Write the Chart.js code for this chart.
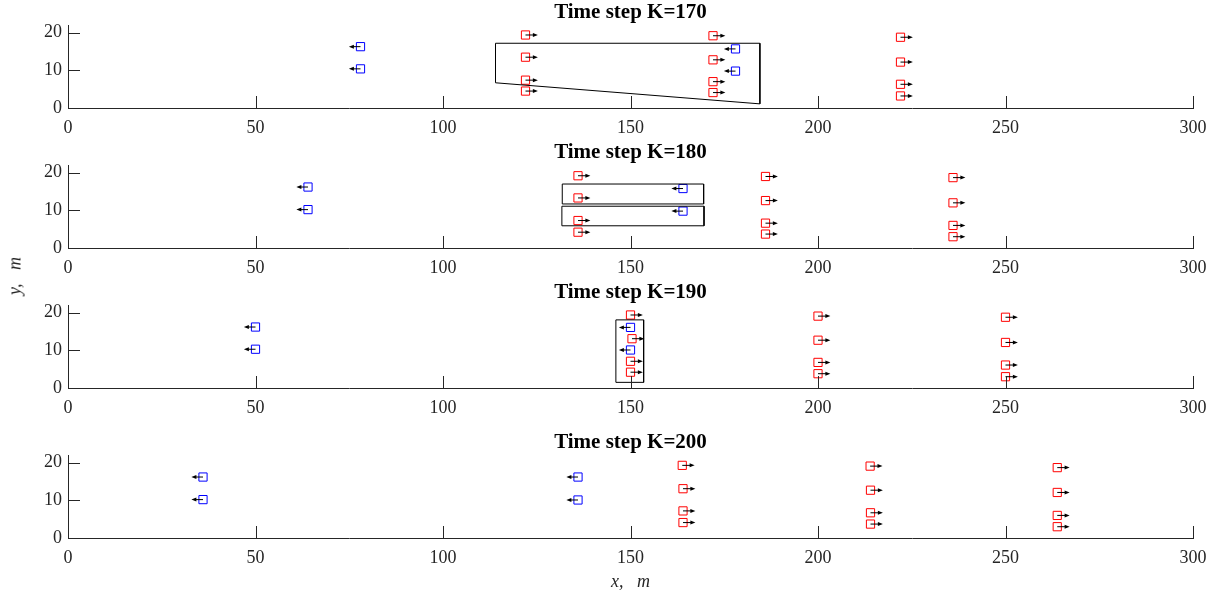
<!DOCTYPE html>
<html>
<head>
<meta charset="utf-8">
<script src="https://cdn.jsdelivr.net/npm/chart.js@4.4.0/dist/chart.umd.min.js"></script>
<style>
  body { margin: 0; background: #fff; }
  #wrap { position: relative; width: 1217px; height: 596px; overflow: hidden; }
  canvas { position: absolute; left: 0; }
  #ylab {
    position: absolute; left: 15px; top: 276px;
    transform: translate(-50%, -50%) rotate(-90deg);
    font: italic 18px "Liberation Serif", serif; color: #262626; white-space: pre;
  }
</style>
</head>
<body>
<div id="wrap">
  <canvas id="c0" width="1217" height="140" style="top:0px"></canvas>
  <canvas id="c1" width="1217" height="140" style="top:140px"></canvas>
  <canvas id="c2" width="1217" height="140" style="top:280px"></canvas>
  <canvas id="c3" width="1217" height="166" style="top:430px"></canvas>
  <div id="ylab">y,   m</div>
</div>
<script>
// time steps, one subplot each
const timeSteps = [170, 180, 190, 200];

// red vehicles (moving right)
const redX = [
  [122, 122, 122, 122, 172, 172, 172, 172, 222, 222, 222, 222],
  [136, 136, 136, 136, 186, 186, 186, 186, 236, 236, 236, 236],
  [150, 150.4, 150, 150, 200, 200, 200, 200, 250, 250, 250, 250],
  [163.8, 164, 164, 164, 213.9, 214, 214, 214, 263.8, 263.8, 263.8, 263.8]
];
const redY = [
  [19.4, 13.5, 7.4, 4.5, 19.2, 12.8, 7.0, 4.1, 18.8, 12.2, 6.3, 3.2],
  [19.2, 13.3, 7.3, 4.2, 19.0, 12.6, 6.6, 3.7, 18.7, 12.0, 6.0, 3.0],
  [19.4, 13.1, 7.1, 4.2, 19.1, 12.7, 6.8, 3.8, 18.8, 12.1, 6.1, 3.0],
  [19.3, 13.1, 7.2, 4.1, 19.1, 12.7, 6.7, 3.7, 18.7, 12.1, 6.0, 3.0]
];
// blue vehicles (moving left)
const blueX = [
  [78, 78, 178, 178],
  [64, 64, 164, 164],
  [50, 50, 150, 150],
  [36, 36, 136, 136]
];
const blueY = [
  [16.3, 10.4, 15.7, 9.8],
  [16.2, 10.2, 15.8, 9.8],
  [16.2, 10.3, 16.1, 10.1],
  [16.2, 10.2, 16.2, 10.1]
];
// velocity arrows (x component, m)
const redVx = 3.3;
const blueVx = -3.1;

// outline boxes per subplot
const boxX = [
  [[114, 184.5, 184.5, 114, 114]],
  [[131.8, 169.5, 169.5, 131.8, 131.8], [131.7, 169.6, 169.6, 131.7, 131.7]],
  [[146.1, 153.5, 153.5, 146.1, 146.1]],
  []
];
const boxY = [
  [[17.2, 17.2, 1.1, 6.7, 17.2]],
  [[17.0, 17.0, 11.7, 11.7, 17.0], [11.1, 11.1, 5.9, 5.9, 11.1]],
  [[18.1, 18.1, 1.5, 1.5, 18.1]],
  []
];

const xMin = 0, xMax = 300, xStep = 50;
const yMin = 0, yMax = 22, yStep = 10;

const axisColor = '#262626';
Chart.defaults.font.family = '"Liberation Serif", "Times New Roman", serif';
Chart.defaults.font.size = 18;
Chart.defaults.color = axisColor;

function drawArrow(ctx, x0, y0, x1) {
  const dir = Math.sign(x1 - x0);
  ctx.beginPath();
  ctx.moveTo(x0, y0);
  ctx.lineTo(x1 - dir * 3, y0);
  ctx.stroke();
  ctx.beginPath();
  ctx.moveTo(x1, y0);
  ctx.lineTo(x1 - dir * 5, y0 - 2);
  ctx.lineTo(x1 - dir * 5, y0 + 2);
  ctx.closePath();
  ctx.fill();
}

function makeChart(i) {
  const last = i === timeSteps.length - 1;
  const datasets = [];
  boxX[i].forEach((bx, k) => {
    datasets.push({
      data: bx.map((v, j) => ({ x: v, y: boxY[i][k][j] })),
      showLine: true, borderColor: '#000', borderWidth: 1,
      pointRadius: 0, fill: false
    });
  });
  datasets.push({
    data: redX[i].map((v, j) => ({ x: v, y: redY[i][j] })),
    pointStyle: 'rect', pointRadius: 5.8, borderColor: '#ff0000',
    backgroundColor: 'rgba(0,0,0,0)', borderWidth: 1
  });
  datasets.push({
    data: blueX[i].map((v, j) => ({ x: v, y: blueY[i][j] })),
    pointStyle: 'rect', pointRadius: 5.8, borderColor: '#0000ff',
    backgroundColor: 'rgba(0,0,0,0)', borderWidth: 1
  });

  const quiver = {
    id: 'quiver',
    afterDatasetsDraw(chart) {
      const { ctx, scales: { x, y } } = chart;
      ctx.save();
      ctx.strokeStyle = '#000';
      ctx.fillStyle = '#000';
      ctx.lineWidth = 1;
      redX[i].forEach((v, j) => {
        drawArrow(ctx, x.getPixelForValue(v), y.getPixelForValue(redY[i][j]), x.getPixelForValue(v + redVx));
      });
      blueX[i].forEach((v, j) => {
        drawArrow(ctx, x.getPixelForValue(v), y.getPixelForValue(blueY[i][j]), x.getPixelForValue(v + blueVx));
      });
      // inward tick marks
      ctx.strokeStyle = axisColor;
      const area = chart.chartArea;
      ctx.beginPath();
      x.ticks.forEach(t => {
        const px = Math.round(x.getPixelForValue(t.value)) + 0.5;
        ctx.moveTo(px, area.bottom);
        ctx.lineTo(px, area.bottom - 12);
      });
      y.ticks.forEach(t => {
        const py = Math.round(y.getPixelForValue(t.value)) + 0.5;
        ctx.moveTo(area.left, py);
        ctx.lineTo(area.left + 12, py);
      });
      ctx.stroke();
      ctx.restore();
    }
  };

  return new Chart('c' + i, {
    type: 'scatter',
    data: { datasets },
    options: {
      responsive: false,
      animation: false,
      layout: { padding: { left: 0, right: 24, top: 0, bottom: 0 } },
      plugins: {
        legend: { display: false },
        tooltip: { enabled: false },
        title: {
          display: true,
          text: 'Time step K=' + timeSteps[i],
          color: '#000',
          fullSize: false,
          font: { size: 21, weight: 'bold' },
          padding: { top: 0, bottom: 0 }
        }
      },
      scales: {
        x: {
          type: 'linear', min: xMin, max: xMax,
          ticks: { stepSize: xStep, padding: 9, color: axisColor },
          grid: { display: false, drawTicks: false },
          border: { display: true, color: axisColor, width: 1 },
          title: {
            display: last, text: 'x,   m', color: axisColor,
            font: { size: 18, style: 'italic' }, padding: { top: 0, bottom: 3 }
          },
          afterFit(scale) { scale.height = last ? 58 : 32; }
        },
        y: {
          type: 'linear', min: yMin, max: yMax,
          ticks: { stepSize: yStep, includeBounds: false, padding: 6, color: axisColor },
          grid: { display: false, drawTicks: false },
          border: { display: true, color: axisColor, width: 1 },
          afterFit(scale) { scale.width = 68; }
        }
      }
    },
    plugins: [quiver]
  });
}

timeSteps.forEach((_, i) => makeChart(i));
</script>
</body>
</html>
